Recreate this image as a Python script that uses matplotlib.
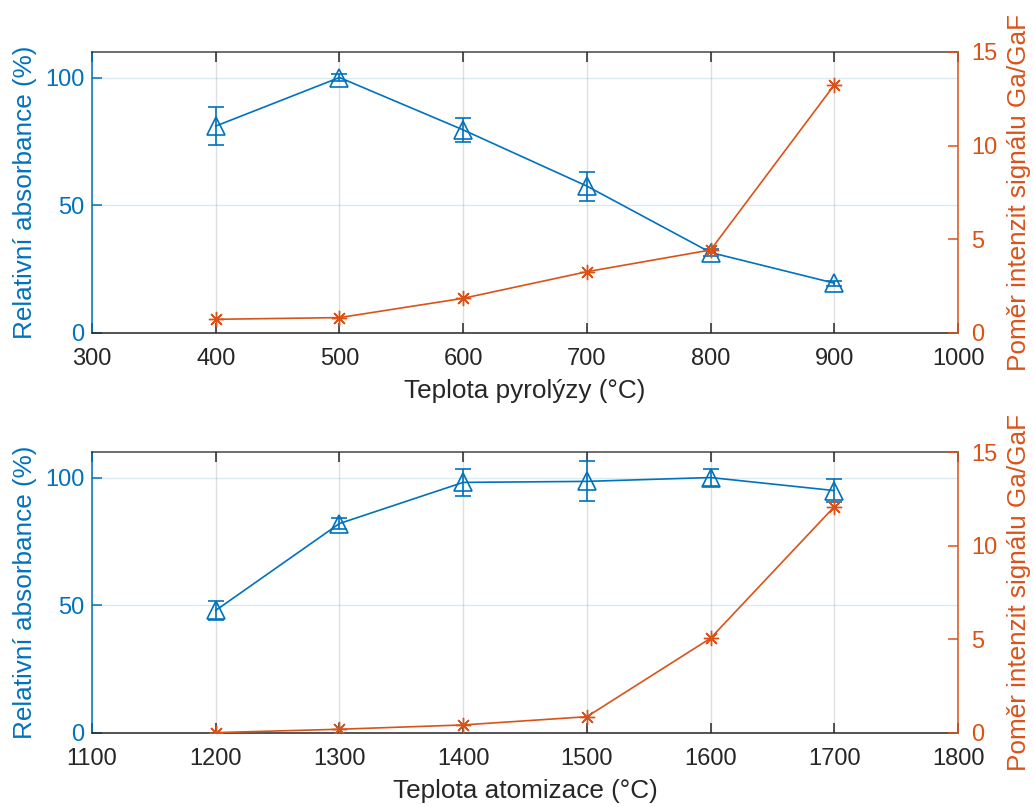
import numpy as np
import matplotlib
matplotlib.use("Agg")
import matplotlib.pyplot as plt

# pyrolysis temperature series
pyr_temp = [400, 500, 600, 700, 800, 900]
pyr_abs = [81.0, 100.0, 79.5, 57.5, 31.5, 19.5]
pyr_abs_err = [7.6, 1.3, 4.8, 5.7, 1.2, 1.0]
pyr_ratio = [0.73, 0.82, 1.85, 3.27, 4.43, 13.24]

# atomization temperature series
atm_temp = [1200, 1300, 1400, 1500, 1600, 1700]
atm_abs = [48.0, 82.0, 98.1, 98.5, 100.0, 94.9]
atm_abs_err = [3.7, 2.0, 5.2, 7.8, 3.4, 4.6]
atm_ratio = [0.02, 0.2, 0.43, 0.87, 5.06, 12.08]

blue = "#0072BD"
orange = "#D95319"
dark = "#262626"

plt.rcParams["font.family"] = ["Liberation Sans", "DejaVu Sans"]
tick_fs = 17
label_fs = 18.8

fig = plt.figure(figsize=(10.33, 8.07), dpi=100)


def panel(rect, x, a, aerr, r, xlim, xticks, xlabel):
    ax = fig.add_axes(rect)
    ax2 = ax.twinx()

    ax.errorbar(x, a, yerr=aerr, color=blue, marker="^", ms=13, mfc="none",
                mew=1.2, lw=1.2, elinewidth=1.2, capsize=6, capthick=1.2,
                zorder=3)
    ax2.plot(x, r, color=orange, marker=(8, 2, 0), ms=11, mew=1.0, lw=1.2,
             zorder=3)

    ax.set_xlim(*xlim)
    ax.set_xticks(xticks)
    ax.set_ylim(0, 110)
    ax.set_yticks([0, 50, 100])
    ax2.set_ylim(0, 15)
    ax2.set_yticks([0, 5, 10, 15])

    ax.set_axisbelow(True)
    ax.grid(axis="x", color=dark, alpha=0.15, lw=1.0)
    ax.grid(axis="y", color=blue, alpha=0.15, lw=1.0)

    ax.tick_params(axis="x", direction="in", top=True, length=7, width=1.1,
                   color=dark, labelcolor=dark, labelsize=tick_fs, pad=11)
    ax.tick_params(axis="y", direction="in", length=7, width=1.1,
                   color=blue, labelcolor=blue, labelsize=tick_fs, pad=5.5)
    ax2.tick_params(axis="y", direction="in", length=7, width=1.1,
                    color=orange, labelcolor=orange, labelsize=tick_fs,
                    pad=9.5)

    for s in ("top", "bottom"):
        ax.spines[s].set_color(dark)
        ax.spines[s].set_linewidth(1.1)
    ax.spines["top"].set_alpha(0.85)
    ax.spines["left"].set_color(blue)
    ax.spines["left"].set_linewidth(1.1)
    ax.spines["right"].set_visible(False)
    for s in ("top", "bottom", "left"):
        ax2.spines[s].set_visible(False)
    ax2.spines["right"].set_color(orange)
    ax2.spines["right"].set_linewidth(1.1)

    ax.set_xlabel(xlabel, fontsize=label_fs, color=dark, labelpad=6)
    ax.set_ylabel("Relativní absorbance (%)", fontsize=label_fs, color=blue,
                  labelpad=6)
    ax2.set_ylabel("Poměr intenzit signálu Ga/GaF", fontsize=label_fs,
                   color=orange, labelpad=7)
    return ax, ax2


panel([0.0891, 0.5874, 0.8383, 0.3482], pyr_temp, pyr_abs, pyr_abs_err,
      pyr_ratio, (300, 1000), np.arange(300, 1001, 100),
      "Teplota pyrolýzy (°C)")
panel([0.0891, 0.0917, 0.8383, 0.3482], atm_temp, atm_abs, atm_abs_err,
      atm_ratio, (1100, 1800), np.arange(1100, 1801, 100),
      "Teplota atomizace (°C)")

fig.savefig("out.png", dpi=100)
